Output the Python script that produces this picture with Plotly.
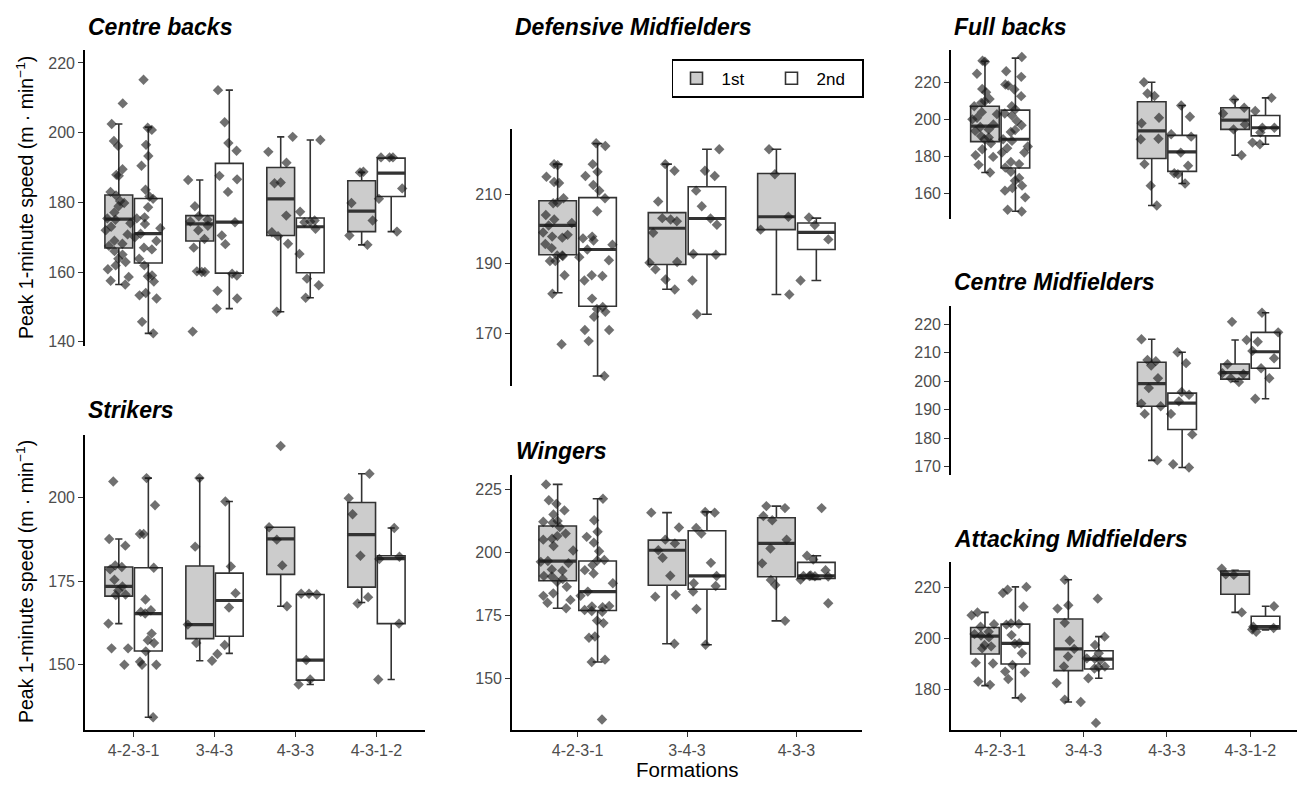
import plotly.graph_objects as go

W, H = 1297, 789

# ---------------- data ----------------
forms4 = ['4-2-3-1', '3-4-3', '4-3-3', '4-3-1-2']
forms3 = ['4-2-3-1', '3-4-3', '4-3-3']
halves = ['1st', '2nd']

# Centre backs
cb_forms = ['4-2-3-1', '3-4-3', '4-3-3', '4-3-1-2']
cb_1st_q1 = [166.9, 168.9, 170.5, 171.6]
cb_1st_med = [175.2, 173.8, 181.0, 177.5]
cb_1st_q3 = [182.1, 176.2, 190.0, 186.2]
cb_1st_lo = [156.4, 160.0, 148.6, 167.8]
cb_1st_hi = [202.5, 186.4, 198.8, 188.6]
cb_1st_pts = [
    [208.4, 202.5, 197.6, 196.2, 189.5, 187.9, 187.6, 183.0, 182.0, 180.4, 179.8, 178.9, 177.1, 175.4, 175.0, 174.0,
     173.0, 172.0, 170.8, 169.0, 168.1, 167.5, 166.0, 165.0, 163.8, 162.9, 161.9, 160.8, 158.6, 157.5, 156.4],
    [186.4, 178.9, 176.0, 175.0, 174.5, 173.3, 172.0, 169.5, 167.0, 160.0, 160.0, 160.2, 142.9],
    [198.8, 194.5, 191.4, 185.7, 185.5, 176.2, 171.4, 170.3, 168.1, 148.6],
    [188.8, 188.6, 179.8, 174.8, 170.5, 167.8],
]
cb_2nd_q1 = [162.6, 159.7, 159.8, 181.7]
cb_2nd_med = [171.0, 174.3, 173.0, 188.4]
cb_2nd_q3 = [181.1, 191.2, 175.5, 192.7]
cb_2nd_lo = [142.4, 149.5, 152.6, 171.6]
cb_2nd_hi = [201.6, 212.2, 197.9, 192.9]
cb_2nd_pts = [
    [215.2, 201.4, 200.8, 196.5, 193.3, 190.5, 183.6, 181.7, 181.0, 178.6, 175.7, 175.4, 173.8, 172.6, 171.0, 170.0,
     168.9, 167.0, 166.5, 163.8, 161.9, 159.0, 158.8, 157.3, 154.0, 153.3, 152.4, 145.7, 142.4],
    [212.2, 203.0, 197.0, 194.8, 187.6, 186.6, 183.0, 174.3, 170.5, 168.0, 159.5, 159.0, 154.6, 152.4, 149.5],
    [197.9, 177.3, 174.8, 174.5, 174.3, 172.4, 165.2, 158.1, 156.2, 152.6],
    [192.9, 192.9, 192.9, 184.0, 181.0, 171.6],
]

# Strikers
st_forms = ['4-2-3-1', '3-4-3', '4-3-3', '4-3-1-2']
st_1st_q1 = [170.5, 157.8, 177.0, 173.2]
st_1st_med = [173.4, 162.0, 187.6, 188.9]
st_1st_q3 = [179.2, 179.5, 191.1, 198.5]
st_1st_lo = [162.3, 151.2, 167.5, 168.6]
st_1st_hi = [187.6, 205.8, 191.1, 207.1]
st_1st_pts = [
    [204.8, 187.6, 185.6, 179.7, 179.2, 178.5, 175.4, 173.4, 172.2, 171.0, 170.8, 162.3, 154.9, 154.9, 150.0],
    [205.8, 185.3, 162.0, 156.5, 151.2],
    [215.4, 191.1, 187.4, 179.7, 167.5],
    [207.1, 199.8, 195.0, 182.6, 170.2, 168.3],
]
st_2nd_q1 = [154.1, 158.5, 145.4, 162.3]
st_2nd_med = [165.3, 169.2, 151.4, 181.7]
st_2nd_q3 = [179.0, 177.4, 171.0, 182.6]
st_2nd_lo = [134.3, 153.4, 144.1, 145.6]
st_2nd_hi = [205.8, 198.8, 171.2, 190.9]
st_2nd_pts = [
    [205.8, 197.7, 189.1, 189.1, 179.0, 169.5, 166.3, 165.8, 165.3, 159.3, 157.3, 156.5, 154.0, 150.9, 150.0, 150.0,
     134.3],
    [198.8, 179.4, 171.4, 167.1, 155.9, 153.2],
    [171.2, 171.2, 171.0, 151.4, 145.6, 144.1],
    [190.9, 182.3, 181.6, 162.3, 145.6],
]

# Defensive midfielders
dm_forms = ['4-2-3-1', '3-4-3', '4-3-3']
dm_1st_q1 = [192.6, 189.8, 199.8]
dm_1st_med = [201.0, 200.2, 203.5]
dm_1st_q3 = [208.1, 204.7, 215.9]
dm_1st_lo = [181.7, 182.7, 181.2]
dm_1st_hi = [218.6, 218.6, 222.9]
dm_1st_pts = [
    [218.6, 218.3, 215.0, 213.5, 213.2, 208.8, 207.6, 207.4, 204.0, 202.7, 201.7, 201.0, 199.0, 198.3, 197.8, 197.5,
     195.7, 194.5, 192.4, 192.4, 192.2, 190.8, 190.8, 186.7, 181.4, 166.9],
    [218.6, 216.7, 207.9, 203.1, 202.7, 202.2, 198.9, 190.5, 190.3, 188.4, 185.5, 182.6],
    [222.9, 215.7, 203.5, 199.8, 181.2],
]
dm_2nd_q1 = [177.8, 192.7, 194.1]
dm_2nd_med = [194.1, 203.0, 199.0]
dm_2nd_q3 = [209.0, 212.1, 201.7]
dm_2nd_lo = [157.8, 175.5, 185.2]
dm_2nd_hi = [224.5, 222.9, 203.1]
dm_2nd_pts = [
    [224.6, 223.8, 218.6, 216.4, 215.2, 212.6, 211.0, 208.8, 205.1, 197.3, 197.8, 196.7, 195.5, 194.1, 191.9, 191.0,
     186.7, 186.5, 185.2, 180.0, 177.6, 176.2, 177.0, 174.8, 171.0, 171.0, 167.8, 157.8],
    [222.9, 216.7, 215.2, 211.0, 206.5, 203.0, 201.2, 192.6, 192.8, 185.2, 175.5],
    [203.3, 201.1, 197.0, 185.2],
]

# Wingers
wg_forms = ['4-2-3-1', '3-4-3', '4-3-3']
wg_1st_q1 = [188.8, 187.0, 190.4]
wg_1st_med = [196.6, 200.9, 203.6]
wg_1st_q3 = [210.5, 204.9, 213.8]
wg_1st_lo = [177.9, 163.8, 172.9]
wg_1st_hi = [227.0, 215.8, 218.4]
wg_1st_pts = [
    [227.0, 220.7, 219.3, 216.7, 215.1, 212.5, 212.2, 211.8, 210.1, 207.5, 206.5, 205.5, 205.1, 202.6, 200.8, 196.6,
     196.3, 195.8, 193.3, 192.8, 190.7, 190.5, 189.5, 188.4, 186.4, 183.8, 182.8, 181.2, 180.1, 177.9],
    [215.8, 209.9, 205.1, 203.6, 200.9, 197.9, 190.8, 183.2, 182.5, 163.8],
    [218.4, 217.6, 214.5, 212.8, 205.1, 201.6, 195.7, 189.1, 187.1, 172.9],
]
wg_2nd_q1 = [177.0, 185.4, 189.7]
wg_2nd_med = [184.5, 190.7, 190.7]
wg_2nd_q3 = [196.6, 208.6, 196.1]
wg_2nd_lo = [156.6, 163.4, 189.3]
wg_2nd_hi = [221.3, 216.1, 198.7]
wg_2nd_pts = [
    [221.3, 212.8, 208.2, 206.2, 203.9, 200.5, 197.0, 196.8, 195.0, 193.0, 191.7, 187.8, 184.5, 182.8, 178.8, 178.6,
     178.3, 177.2, 176.8, 176.5, 173.0, 172.0, 166.7, 166.2, 157.5, 156.6, 133.8],
    [216.1, 215.8, 209.7, 207.5, 195.9, 190.7, 187.8, 186.7, 184.5, 177.6, 163.4],
    [217.6, 198.7, 197.2, 193.0, 190.9, 190.7, 190.7, 190.6, 190.5, 189.3, 179.9],
]

# Full backs
fb_forms = ['4-2-3-1', '4-3-3', '4-3-1-2']
fb_1st_q1 = [188.0, 178.9, 194.6]
fb_1st_med = [196.4, 193.8, 199.6]
fb_1st_q3 = [207.1, 209.5, 206.3]
fb_1st_lo = [171.4, 153.6, 180.7]
fb_1st_hi = [231.3, 220.0, 210.7]
fb_1st_pts = [
    [231.6, 231.0, 224.6, 216.4, 214.6, 211.0, 209.8, 208.9, 207.1, 203.9, 202.8, 200.9, 200.0, 197.3, 195.9, 194.6,
     193.8, 191.0, 190.2, 189.3, 187.1, 183.9, 180.7, 179.8, 175.5, 171.4],
    [220.0, 213.9, 212.6, 200.9, 197.9, 189.6, 189.3, 175.9, 164.3, 153.6],
    [210.7, 206.3, 203.2, 197.3, 194.6, 180.7],
]
fb_2nd_q1 = [173.8, 172.0, 191.1]
fb_2nd_med = [189.3, 182.5, 195.5]
fb_2nd_q3 = [205.0, 191.4, 202.1]
fb_2nd_lo = [150.5, 165.5, 186.6]
fb_2nd_hi = [233.0, 207.5, 211.6]
fb_2nd_pts = [
    [233.6, 225.9, 222.9, 218.8, 218.3, 216.1, 212.5, 207.1, 205.4, 203.2, 202.1, 199.1, 196.8, 194.3, 193.2, 189.3,
     188.4, 185.4, 184.5, 182.1, 182.1, 177.1, 175.9, 174.1, 171.8, 168.4, 167.0, 164.3, 163.0, 161.6, 158.0, 151.3,
     150.4],
    [207.5, 201.4, 192.0, 190.7, 182.1, 175.0, 170.5, 171.0, 165.5],
    [211.6, 204.5, 195.5, 195.5, 192.9, 187.5, 186.6],
]

# Centre midfielders
cm_forms = ['4-3-3', '4-3-1-2']
cm_1st_q1 = [191.2, 200.7]
cm_1st_med = [199.1, 203.0]
cm_1st_q3 = [206.6, 206.0]
cm_1st_lo = [172.2, 199.9]
cm_1st_hi = [214.7, 214.4]
cm_1st_pts = [
    [214.7, 207.4, 207.0, 205.5, 201.0, 197.6, 192.1, 191.2, 188.5, 172.2],
    [220.8, 214.4, 205.9, 202.8, 202.5, 201.0, 199.7],
]
cm_2nd_q1 = [183.0, 204.5]
cm_2nd_med = [192.3, 210.3]
cm_2nd_q3 = [195.8, 217.1]
cm_2nd_lo = [169.7, 193.8]
cm_2nd_hi = [210.1, 224.0]
cm_2nd_pts = [
    [210.1, 206.3, 196.2, 195.2, 192.9, 188.5, 181.3, 170.8, 169.7],
    [224.0, 217.1, 213.8, 210.6, 208.0, 204.5, 201.0, 193.8],
]

# Attacking midfielders
am_forms = ['4-2-3-1', '3-4-3', '4-3-1-2']
am_1st_q1 = [194.0, 187.5, 217.4]
am_1st_med = [201.0, 196.0, 225.2]
am_1st_q3 = [204.4, 207.7, 226.5]
am_1st_lo = [181.6, 175.2, 210.3]
am_1st_hi = [210.3, 223.1, 226.8]
am_1st_pts = [
    [210.3, 209.2, 205.7, 204.7, 202.7, 201.8, 201.2, 200.5, 197.5, 197.0, 196.2, 190.6, 190.3, 183.2, 181.9],
    [223.1, 213.1, 211.8, 206.2, 199.2, 196.0, 193.0, 189.1, 182.6, 176.1, 175.2],
    [227.4, 225.2, 225.0, 210.3],
]
am_2nd_q1 = [190.1, 188.1, 203.8]
am_2nd_med = [198.2, 192.0, 204.7]
am_2nd_q3 = [205.7, 195.3, 208.8]
am_2nd_lo = [176.8, 184.5, 203.4]
am_2nd_hi = [220.3, 200.8, 212.7]
am_2nd_pts = [
    [220.3, 219.2, 217.9, 212.5, 206.0, 205.8, 205.5, 201.4, 198.2, 198.0, 194.3, 189.7, 187.1, 186.8, 184.2, 176.8],
    [215.7, 200.8, 197.5, 194.3, 192.3, 192.1, 191.5, 189.1, 188.8, 188.3, 184.5, 167.0],
    [212.7, 204.7, 204.2, 203.6, 202.7],
]

# y tick values per panel
cb_ticks = [140, 160, 180, 200, 220]
st_ticks = [150, 175, 200]
dm_ticks = [170, 190, 210]
wg_ticks = [150, 175, 200, 225]
fb_ticks = [160, 180, 200, 220]
cm_ticks = [170, 180, 190, 200, 210, 220]
am_ticks = [180, 200, 220]

# ---------------- layout definitions (pixels) ----------------
panels = [
    dict(title='Centre backs', forms=cb_forms, cats=forms4, x=(85, 425), y=(50, 348), yr=(138.7, 223.8),
         ticks=cb_ticks, xlab=False, tx=86, ty=27,
         h1=(cb_1st_q1, cb_1st_med, cb_1st_q3, cb_1st_lo, cb_1st_hi, cb_1st_pts),
         h2=(cb_2nd_q1, cb_2nd_med, cb_2nd_q3, cb_2nd_lo, cb_2nd_hi, cb_2nd_pts)),
    dict(title='Strikers', forms=st_forms, cats=forms4, x=(85, 425), y=(437, 734), yr=(130.4, 218.75),
         ticks=st_ticks, xlab=True, tx=86, ty=412,
         h1=(st_1st_q1, st_1st_med, st_1st_q3, st_1st_lo, st_1st_hi, st_1st_pts),
         h2=(st_2nd_q1, st_2nd_med, st_2nd_q3, st_2nd_lo, st_2nd_hi, st_2nd_pts)),
    dict(title='Defensive Midfielders', forms=dm_forms, cats=forms3, x=(512, 862), y=(130, 388),
         yr=(154.9, 228.6), ticks=dm_ticks, xlab=False, tx=513, ty=27,
         h1=(dm_1st_q1, dm_1st_med, dm_1st_q3, dm_1st_lo, dm_1st_hi, dm_1st_pts),
         h2=(dm_2nd_q1, dm_2nd_med, dm_2nd_q3, dm_2nd_lo, dm_2nd_hi, dm_2nd_pts)),
    dict(title='Wingers', forms=wg_forms, cats=forms3, x=(512, 862), y=(477, 734), yr=(129.5, 230.9),
         ticks=wg_ticks, xlab=True, tx=514, ty=453,
         h1=(wg_1st_q1, wg_1st_med, wg_1st_q3, wg_1st_lo, wg_1st_hi, wg_1st_pts),
         h2=(wg_2nd_q1, wg_2nd_med, wg_2nd_q3, wg_2nd_lo, wg_2nd_hi, wg_2nd_pts)),
    dict(title='Full backs', forms=fb_forms, cats=forms4, x=(951, 1297), y=(50, 220), yr=(146.4, 237.5),
         ticks=fb_ticks, xlab=False, tx=952, ty=27,
         h1=(fb_1st_q1, fb_1st_med, fb_1st_q3, fb_1st_lo, fb_1st_hi, fb_1st_pts),
         h2=(fb_2nd_q1, fb_2nd_med, fb_2nd_q3, fb_2nd_lo, fb_2nd_hi, fb_2nd_pts)),
    dict(title='Centre Midfielders', forms=cm_forms, cats=forms4, x=(951, 1297), y=(308, 477),
         yr=(167.2, 226.2), ticks=cm_ticks, xlab=False, tx=952, ty=283,
         h1=(cm_1st_q1, cm_1st_med, cm_1st_q3, cm_1st_lo, cm_1st_hi, cm_1st_pts),
         h2=(cm_2nd_q1, cm_2nd_med, cm_2nd_q3, cm_2nd_lo, cm_2nd_hi, cm_2nd_pts)),
    dict(title='Attacking Midfielders', forms=am_forms, cats=forms4, x=(951, 1297), y=(565, 734),
         yr=(164.1, 230.0), ticks=am_ticks, xlab=True, tx=952, ty=542,
         h1=(am_1st_q1, am_1st_med, am_1st_q3, am_1st_lo, am_1st_hi, am_1st_pts),
         h2=(am_2nd_q1, am_2nd_med, am_2nd_q3, am_2nd_lo, am_2nd_hi, am_2nd_pts)),
]

FONT = 'Liberation Sans, Arial, sans-serif'
LINE = '#333333'
fills = {'1st': '#cccccc', '2nd': '#ffffff'}

fig = go.Figure()
layout = dict()
annotations = []

for i, p in enumerate(panels, start=1):
    xa = 'x' if i == 1 else f'x{i}'
    ya = 'y' if i == 1 else f'y{i}'
    for half, stats in zip(halves, (p['h1'], p['h2'])):
        q1, med, q3, lo, hi, pts = stats
        fig.add_trace(go.Box(
            x=p['forms'], q1=q1, median=med, q3=q3, lowerfence=lo, upperfence=hi,
            boxpoints=False, fillcolor=fills[half], line=dict(color=LINE, width=1.6),
            whiskerwidth=0.26, offsetgroup=half, name=half, legendgroup=half,
            showlegend=(i == 1), xaxis=xa, yaxis=ya, hoverinfo='skip'))
        # thicker median bar
        fig.add_trace(go.Box(
            x=p['forms'], q1=med, median=med, q3=med, lowerfence=med, upperfence=med,
            boxpoints=False, fillcolor='rgba(0,0,0,0)', line=dict(color=LINE, width=3.2),
            whiskerwidth=0, offsetgroup=half, name=half, legendgroup=half,
            showlegend=False, xaxis=xa, yaxis=ya, hoverinfo='skip'))
    for half, stats in zip(halves, (p['h1'], p['h2'])):
        pts = stats[5]
        xs = [f for f, vals in zip(p['forms'], pts) for _ in vals]
        ys = [v for vals in pts for v in vals]
        fig.add_trace(go.Box(
            x=xs, y=ys, boxpoints='all', jitter=1.0, pointpos=0,
            fillcolor='rgba(0,0,0,0)', line=dict(width=0, color='rgba(0,0,0,0)'),
            marker=dict(symbol='diamond', size=8, color='rgba(25,25,25,0.62)'),
            offsetgroup=half, name=half, legendgroup=half, showlegend=False,
            xaxis=xa, yaxis=ya, hoverinfo='skip'))

    n = len(p['cats'])
    xkey = 'xaxis' if i == 1 else f'xaxis{i}'
    ykey = 'yaxis' if i == 1 else f'yaxis{i}'
    if n == 4 and p['x'][0] > 900:
        xr = [-0.59, n - 0.44]
    else:
        xr = [-0.6, n - 0.4]
    layout[xkey] = dict(
        domain=[p['x'][0] / W, p['x'][1] / W], anchor=ya, type='category',
        categoryorder='array', categoryarray=p['cats'], range=xr,
        showgrid=False, zeroline=False, fixedrange=True,
        showline=p['xlab'], linecolor='black', linewidth=1.6,
        ticks='outside' if p['xlab'] else '', ticklen=5, tickwidth=1.3, tickcolor=LINE,
        showticklabels=p['xlab'], tickfont=dict(family=FONT, size=16, color='#4d4d4d'))
    layout[ykey] = dict(
        domain=[1 - p['y'][1] / H, 1 - p['y'][0] / H], anchor=xa, range=list(p['yr']),
        tickmode='array', tickvals=p['ticks'], showgrid=False, zeroline=False,
        showline=True, linecolor='black', linewidth=1.6, fixedrange=True,
        ticks='outside', ticklen=5, tickwidth=1.3, tickcolor=LINE,
        tickfont=dict(family=FONT, size=16, color='#4d4d4d'))
    annotations.append(dict(
        text=f"<b><i>{p['title']}</i></b>", x=p['tx'] / W, y=1 - p['ty'] / H,
        xref='paper', yref='paper', xanchor='left', yanchor='middle', showarrow=False,
        font=dict(family=FONT, size=23, color='black')))

ytitle = 'Peak 1-minute speed (m · min<sup>−1</sup>)'
for yc in (199, 585):
    annotations.append(dict(
        text=ytitle, x=25 / W, y=1 - yc / H, xref='paper', yref='paper',
        xanchor='center', yanchor='middle', textangle=-90, showarrow=False,
        font=dict(family=FONT, size=19.5, color='black')))

annotations.append(dict(
    text='Formations', x=687 / W, y=1 - 773 / H, xref='paper', yref='paper',
    xanchor='center', yanchor='middle', showarrow=False,
    font=dict(family=FONT, size=20.5, color='black')))

fig.update_layout(
    **layout,
    annotations=annotations,
    width=W, height=H,
    margin=dict(l=0, r=0, t=0, b=0),
    paper_bgcolor='white', plot_bgcolor='white',
    boxmode='group', boxgap=0.27, boxgroupgap=0.06,
    showlegend=True,
    legend=dict(x=767.5 / W, y=1 - 79 / H, xanchor='center', yanchor='middle', orientation='h',
                bordercolor='black', borderwidth=1.6, bgcolor='white',
                font=dict(family=FONT, size=17, color='black'), itemwidth=40,
                entrywidth=40),
    font=dict(family=FONT),
)

fig.write_html('out.html', config={'displayModeBar': False},
               post_script="document.body.style.margin='0';document.body.style.overflow='hidden';")
